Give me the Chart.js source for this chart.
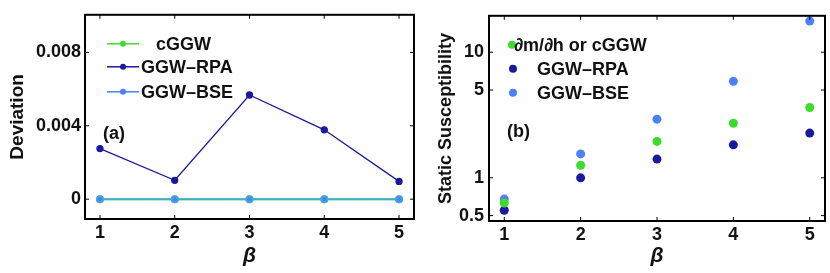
<!DOCTYPE html>
<html>
<head>
<meta charset="utf-8">
<script src="https://cdn.jsdelivr.net/npm/chart.js@4.4.1/dist/chart.umd.min.js"></script>
<style>
    html, body { margin: 0; padding: 0; background: #fff; }
    .panel { position: absolute; top: 0; height: 273px; }
    #left { left: 0; width: 420px; }
    #right { left: 420px; width: 410px; }
</style>
</head>
<body>
<div class="panel" id="left"><canvas id="devChart" width="420" height="273"></canvas></div>
<div class="panel" id="right"><canvas id="susChart" width="410" height="273"></canvas></div>
<script>
// Data
const betas = [1, 2, 3, 4, 5];
const devCGGW = [0, 0, 0, 0, 0];
const devRPA = [0.00276, 0.00103, 0.00568, 0.00378, 0.00097];
const devBSE = [0, 0, 0, 0, 0];
const devTicks = [0, 0.004, 0.008];

const susCGGW = [0.63, 1.26, 1.95, 2.72, 3.63];
const susRPA = [0.552, 1.0, 1.41, 1.83, 2.27];
const susBSE = [0.677, 1.55, 2.93, 5.86, 17.7];
const susTicks = [0.5, 1, 5, 10];

const GREEN = '#3ddc2b';
const NAVY = '#1a1a9c';
const BLUE = '#4a80f8';
const FONT = 'Liberation Sans, Arial, sans-serif';

Chart.defaults.font.family = FONT;
Chart.defaults.color = '#111';

const toPoints = (ys) => betas.map((b, i) => ({ x: b, y: ys[i] }));

// frame around the plot area plus small inward ticks
const framePlugin = {
    id: 'frame',
    afterDatasetsDraw(chart) {
        const { ctx, chartArea: a, scales } = chart;
        ctx.save();
        ctx.strokeStyle = '#000';
        ctx.lineWidth = 1;
        scales.x.ticks.forEach(t => {
            const px = scales.x.getPixelForValue(t.value);
            ctx.beginPath();
            ctx.moveTo(px, a.bottom); ctx.lineTo(px, a.bottom - 4);
            ctx.moveTo(px, a.top); ctx.lineTo(px, a.top + 4);
            ctx.stroke();
        });
        scales.y.ticks.forEach(t => {
            const py = scales.y.getPixelForValue(t.value);
            ctx.beginPath();
            ctx.moveTo(a.left, py); ctx.lineTo(a.left + 4, py);
            ctx.moveTo(a.right, py); ctx.lineTo(a.right - 4, py);
            ctx.stroke();
        });
        ctx.lineWidth = 2;
        ctx.strokeRect(a.left, a.top, a.right - a.left, a.bottom - a.top);
        ctx.restore();
    }
};

// legend and panel tag drawn inside the plot area
const insetPlugin = {
    id: 'inset',
    afterDraw(chart, args, opts) {
        const { ctx, chartArea: a } = chart;
        ctx.save();
        ctx.font = 'bold 18px ' + FONT;
        ctx.textBaseline = 'middle';
        ctx.fillStyle = '#111';
        opts.items.forEach(it => {
            const y = a.top + it.dy;
            if (it.line) {
                ctx.strokeStyle = it.color;
                ctx.lineWidth = 1.5;
                ctx.beginPath();
                ctx.moveTo(a.left + it.dx, y);
                ctx.lineTo(a.left + it.dx + 32, y);
                ctx.stroke();
            }
            ctx.fillStyle = it.color;
            ctx.beginPath();
            ctx.arc(a.left + it.dx + it.dotOff, y, it.r, 0, Math.PI * 2);
            ctx.fill();
            ctx.fillStyle = '#111';
            ctx.textAlign = 'left';
            ctx.fillText(it.text, a.left + it.tx, y + 1);
        });
        ctx.fillText(opts.tag.text, a.left + opts.tag.dx, a.top + opts.tag.dy);
        ctx.restore();
    }
};

function xScale(height) {
    return {
        type: 'linear',
        min: 0.8,
        max: 5.2,
        afterBuildTicks: (s) => { s.ticks = betas.map(v => ({ value: v })); },
        afterFit: (s) => { s.height = height; },
        grid: { display: false, drawTicks: false },
        border: { display: false },
        ticks: { padding: 3, font: { size: 18, weight: 'bold' }, color: '#111' },
        title: {
            display: true,
            text: 'β',
            font: { size: 21, weight: 'bold', style: 'italic' },
            color: '#111',
            padding: { top: 2 }
        }
    };
}

new Chart(document.getElementById('devChart'), {
    type: 'line',
    data: {
        datasets: [
            { label: 'cGGW', data: toPoints(devCGGW), borderColor: GREEN, backgroundColor: GREEN, borderWidth: 2, pointRadius: 3, order: 3 },
            { label: 'GGW–RPA', data: toPoints(devRPA), borderColor: NAVY, backgroundColor: NAVY, borderWidth: 1.3, pointRadius: 3, order: 2 },
            { label: 'GGW–BSE', data: toPoints(devBSE), borderColor: 'rgba(70,160,240,0.8)', backgroundColor: BLUE, borderWidth: 2, pointRadius: 3, order: 1 }
        ]
    },
    options: {
        responsive: false,
        animation: false,
        layout: { padding: { top: 13, right: 3, left: 0, bottom: 0 } },
        plugins: {
            legend: { display: false },
            tooltip: { enabled: false },
            inset: {
                items: [
                    { text: 'cGGW', color: GREEN, dx: 22, dy: 29, dotOff: 16, r: 3, tx: 71, line: true },
                    { text: 'GGW–RPA', color: NAVY, dx: 22, dy: 52, dotOff: 16, r: 3, tx: 56, line: true },
                    { text: 'GGW–BSE', color: BLUE, dx: 22, dy: 77, dotOff: 16, r: 3, tx: 56, line: true }
                ],
                tag: { text: '(a)', dx: 18, dy: 119 }
            }
        },
        scales: {
            x: xScale(54),
            y: {
                type: 'linear',
                min: -0.00108,
                max: 0.01005,
                afterBuildTicks: (s) => { s.ticks = devTicks.map(v => ({ value: v })); },
                afterFit: (s) => { s.width = 85; },
                grid: { display: false, drawTicks: false },
                border: { display: false },
                ticks: {
                    padding: 4,
                    font: { size: 18, weight: 'bold' },
                    color: '#111',
                    callback: (v) => v === 0 ? '0' : v.toFixed(3)
                },
                title: {
                    display: true,
                    text: 'Deviation',
                    font: { size: 19, weight: 'bold' },
                    color: '#111',
                    padding: { bottom: 0, top: 6 }
                }
            }
        }
    },
    plugins: [framePlugin, insetPlugin]
});

new Chart(document.getElementById('susChart'), {
    type: 'scatter',
    data: {
        datasets: [
            { label: '∂m/∂h or cGGW', data: toPoints(susCGGW), backgroundColor: GREEN, borderWidth: 0, pointRadius: 4.5 },
            { label: 'GGW–RPA', data: toPoints(susRPA), backgroundColor: NAVY, borderWidth: 0, pointRadius: 4.5 },
            { label: 'GGW–BSE', data: toPoints(susBSE), backgroundColor: BLUE, borderWidth: 0, pointRadius: 4.5 }
        ]
    },
    options: {
        responsive: false,
        animation: false,
        layout: { padding: { top: 12, right: 5, left: 0, bottom: 0 } },
        plugins: {
            legend: { display: false },
            tooltip: { enabled: false },
            inset: {
                items: [
                    { text: '∂m/∂h or cGGW', color: GREEN, dx: 0, dy: 29, dotOff: 23, r: 4, tx: 25 },
                    { text: 'GGW–RPA', color: NAVY, dx: 0, dy: 53, dotOff: 24, r: 4, tx: 48 },
                    { text: 'GGW–BSE', color: BLUE, dx: 0, dy: 77, dotOff: 24, r: 4, tx: 48 }
                ],
                tag: { text: '(b)', dx: 18, dy: 116 }
            }
        },
        scales: {
            x: xScale(52),
            y: {
                type: 'logarithmic',
                min: 0.453,
                max: 19.5,
                afterBuildTicks: (s) => { s.ticks = susTicks.map(v => ({ value: v })); },
                afterFit: (s) => { s.width = 69; },
                grid: { display: false, drawTicks: false },
                border: { display: false },
                ticks: {
                    padding: 5,
                    font: { size: 18, weight: 'bold' },
                    color: '#111',
                    callback: (v) => String(v)
                },
                title: {
                    display: true,
                    text: 'Static Susceptibility',
                    font: { size: 18, weight: 'bold' },
                    color: '#111',
                    padding: { bottom: 0, top: 15 }
                }
            }
        }
    },
    plugins: [framePlugin, insetPlugin]
});
</script>
</body>
</html>
